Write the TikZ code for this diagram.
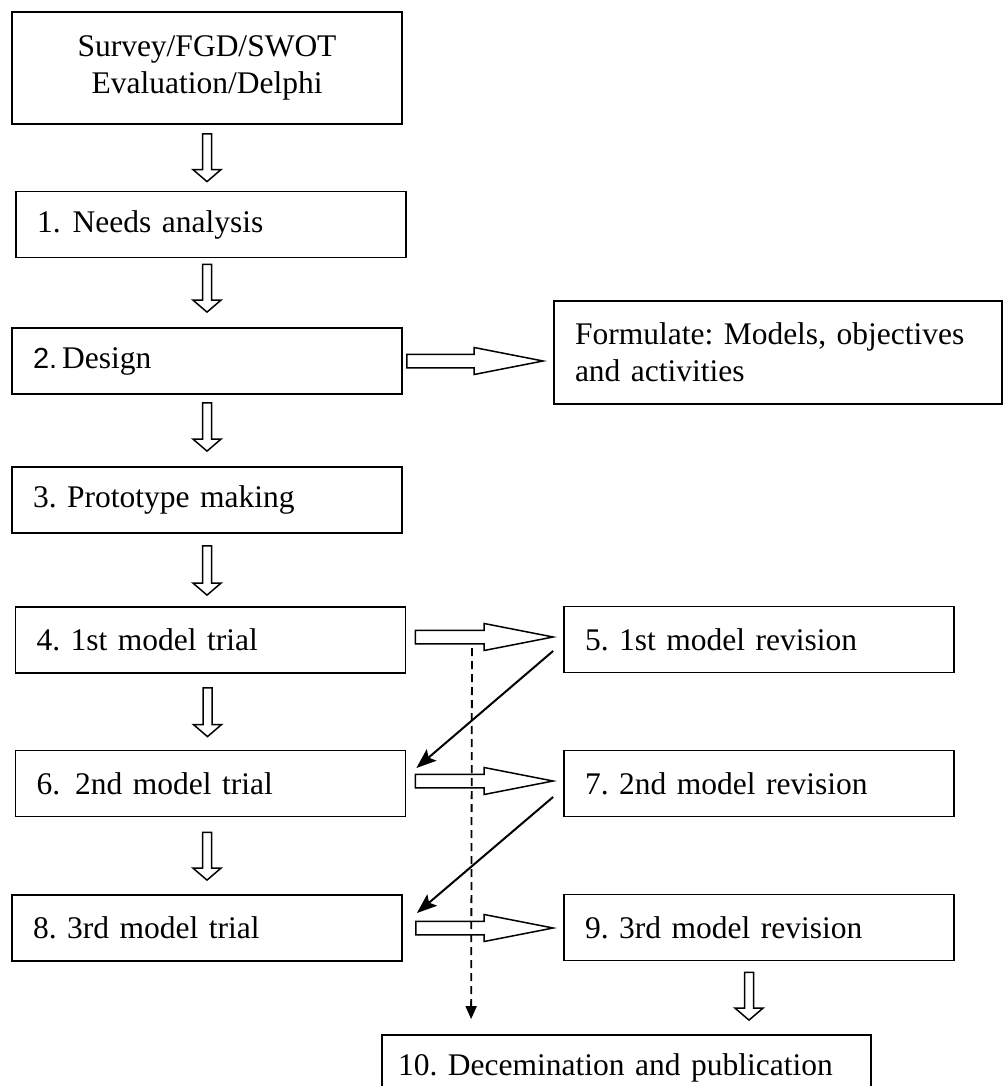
\documentclass[tikz,border=0pt]{standalone}
\usepackage{fontspec}
\setmainfont{Liberation Serif}
\newfontfamily\numsans{Liberation Sans}
\usetikzlibrary{arrows.meta,calc}
\frenchspacing

\tikzset{
	stage/.style={draw,line width=1.8pt,minimum height=66pt,text width=348pt,
		inner xsep=21pt,align=left,font=\fontsize{31.5}{37}\selectfont},
	hollow/.style args={#1/#2/#3}{draw,fill=white,line width=1.5pt,line join=miter,
		to path={let \p1=(\tikztostart), \p2=(\tikztotarget),
			\n1={atan2(\y2-\y1,\x2-\x1)}, \n2={veclen(\x2-\x1,\y2-\y1)} in
			($(\p1)+(\n1+90:#1)$) -- ($(\p1)+(\n1:\n2-#3)+(\n1+90:#1)$)
			-- ($(\p1)+(\n1:\n2-#3)+(\n1+90:#2)$) -- (\p2)
			-- ($(\p1)+(\n1:\n2-#3)+(\n1-90:#2)$) -- ($(\p1)+(\n1:\n2-#3)+(\n1-90:#1)$)
			-- ($(\p1)+(\n1-90:#1)$) -- cycle}},
	downblock/.style={hollow=4.5pt/14pt/12pt},
	sideblock/.style={hollow=6.75pt/13.5pt/69pt},
	feedback/.style={line width=2pt,-{Stealth[length=20pt,width=15pt,inset=4pt]}},
}

\begin{document}
\begin{tikzpicture}[x=1pt,y=-1pt]
	\useasboundingbox (0,0) rectangle (1004,1086);
	\clip (0,0) rectangle (1004,1086);
	
	%stages
	\node[stage,align=center,minimum height=112pt] (s0) at (207,68) {Survey/FGD/SWOT\\Evaluation/Delphi};
	\node[stage] (s1) at (211,224.5) {1.\hspace{12pt}Needs analysis};
	\node[stage] (s2) at (207,361) {{\numsans\fontsize{29}{37}\selectfont 2.}\hspace{5pt}Design};
	\node[stage,text width=406pt,minimum height=103pt] (f) at (778,352.5) {Formulate: Models, objectives\\and activities};
	\node[stage] (s3) at (207,500) {3. Prototype making};
	\node[stage] (s4) at (210.5,640) {4. 1st model trial};
	\node[stage] (s6) at (210.5,783.5) {6.\hspace{15pt}2nd model trial};
	\node[stage] (s8) at (207,928) {8. 3rd model trial};
	
	%revisions
	\node[stage] (r5) at (759,639.5) {5. 1st model revision};
	\node[stage] (r7) at (759,783.5) {7. 2nd model revision};
	\node[stage] (r9) at (759,927.5) {9. 3rd model revision};
	\node[stage,text width=457pt,inner xsep=16pt] (s10) at (626.5,1068) {10. Decemination and publication};
	
	%main column
	\draw[downblock] ($(s0.south)+(0,9)$) to ($(s0.south|-s1.north)+(0,-9)$);
	\draw[downblock] ($(s2.north|-s1.south)+(0,6)$) to ($(s2.north)+(0,-15)$);
	\draw[downblock] ($(s2.south)+(0,8)$) to ($(s3.north)+(0,-15)$);
	\draw[downblock] ($(s3.south)+(0,12)$) to ($(s3.south|-s4.north)+(0,-11)$);
	\draw[downblock] ($(s4.south)+(-3,14)$) to ($(s4.south|-s6.north)+(-3,-13)$);
	\draw[downblock] ($(s8.north|-s6.south)+(0,15)$) to ($(s8.north)+(0,-14)$);
	\draw[downblock] ($(r9.south)+(-10,11)$) to ($(r9.south|-s10.north)+(-10,-14)$);
	
	%trial--revision
	\draw[sideblock] ($(s2.east)+(4,0)$) to ($(s2.east-|f.west)+(-10,0)$);
	\draw[sideblock] ($(s4.east)+(9,-3)$) to ($(s4.east-|r5.west)+(-10,-3)$);
	\draw[sideblock] ($(s6.east)+(9,-2.5)$) to ($(s6.east-|r7.west)+(-10,-2.5)$);
	\draw[sideblock] ($(s8.east)+(13,0)$) to ($(s8.east-|r9.west)+(-10,0)$);
	
	%revision--next trial
	\draw[feedback] ($(r5.west)+(-10,11.5)$) -- ($(s6.east)+(10,-15.5)$);
	\draw[feedback] ($(r7.west)+(-10,13.5)$) -- ($(s8.east)+(14,-15)$);
	
	%shortcut to publication
	\coordinate (dtop) at (472,648);
	\draw[line width=1.8pt,dash pattern=on 8pt off 5pt,-{Triangle[length=13pt,width=11pt]}] (dtop) -- ($(s10.north west)+(90,-15)$);
\end{tikzpicture}
\end{document}
